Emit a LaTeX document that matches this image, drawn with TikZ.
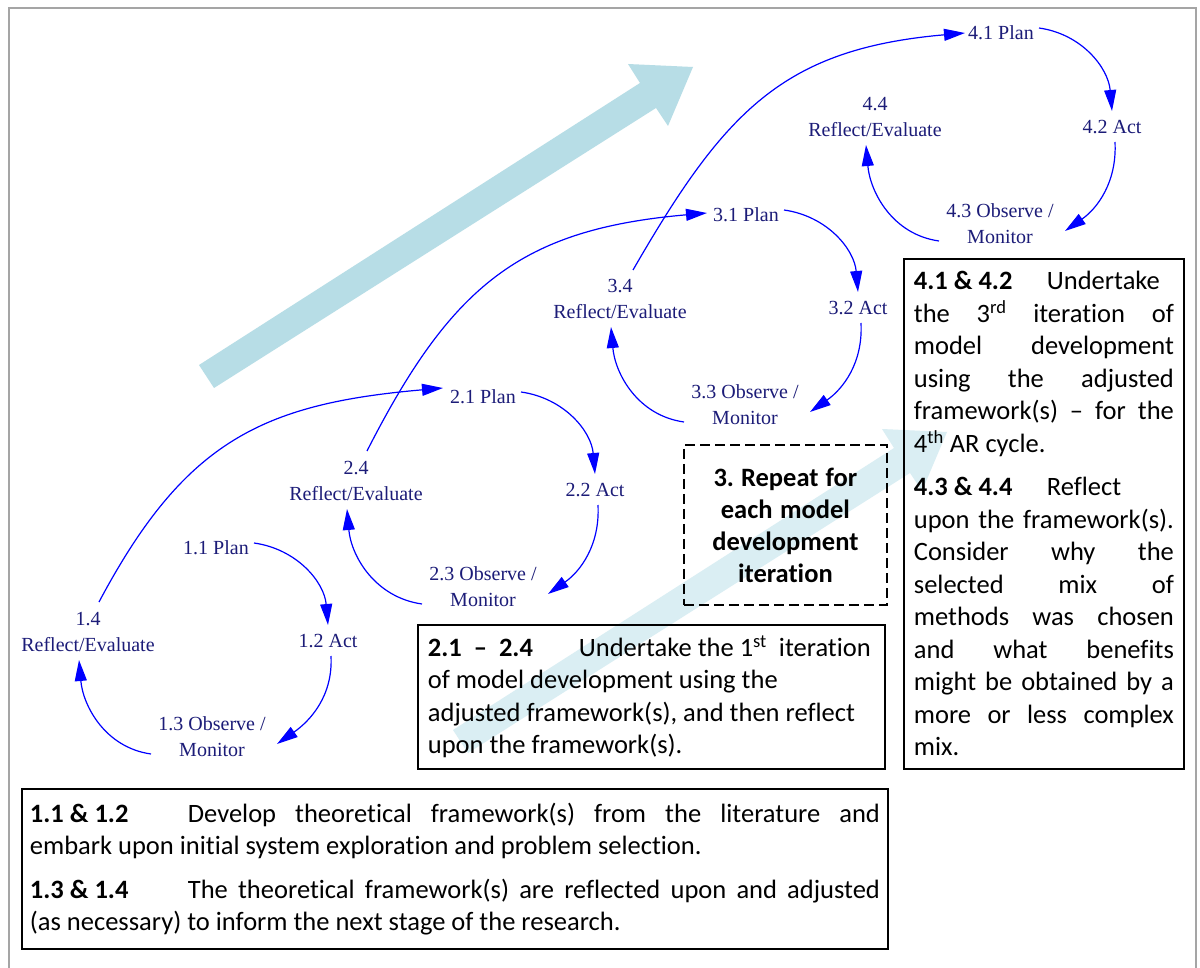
\documentclass[tikz,border=0pt]{standalone}
\usepackage{fontspec}
\setmainfont{Carlito}[Ligatures=NoCommon]
\newfontfamily\cycfont{Liberation Serif}
\usetikzlibrary{arrows.meta}
\definecolor{cycblue}{RGB}{0,0,255}
\definecolor{cyctext}{RGB}{28,28,120}
\definecolor{bigarrow}{RGB}{183,221,230}
\definecolor{softarrow}{RGB}{218,238,243}
\definecolor{framegray}{RGB}{165,165,165}
\frenchspacing
\hyphenpenalty=10000\relax
% a line stretched to the full given width
\newcommand\jline[2]{\makebox[#1][s]{\spaceskip=0.23em plus 1fil\relax #2}}
% back to the font's own word spacing inside a node
\newcommand\natspace{\spaceskip=0pt\xspaceskip=0pt\relax}
% bold paragraph lead-in followed by a tab stop
\newcommand\lead[2]{\makebox[#1][l]{\natspace\textbf{#2}}}

\begin{document}
\begin{tikzpicture}[x=1pt,y=1pt,
  stage/.style={font=\cycfont\fontsize{20}{26}\selectfont, text=cyctext, align=center, inner sep=2pt},
  cyc/.style={draw=cycblue, line width=1.2pt, -{Triangle[length=21pt,width=12pt]}},
  note/.style={draw=black, line width=1.8pt, anchor=north west,
    font=\fontsize{26.5}{32.5}\selectfont},
]
\useasboundingbox (0,0) rectangle (1200,-968);
\fill[white] (0,0) rectangle (1200,-968);
\draw[framegray, line width=2pt] (9,-968) -- (9,-8) -- (1196,-8) -- (1196,-968);

% broad progress arrows
\fill[bigarrow] (199,-365) -- (640,-83) -- (628,-64) -- (693,-67) -- (668,-126) -- (656,-108) -- (214,-388) -- cycle;
\fill[softarrow] (453,-730) -- (894,-448) -- (882,-429) -- (947,-432) -- (922,-491) -- (910,-473) -- (468,-753) -- cycle;

% explanatory boxes
\node[note, text width=850pt, inner xsep=8pt, minimum height=160pt] (n1) at (21,-788) {\natspace
  \jline{850pt}{\lead{158pt}{1.1 \& 1.2}Develop theoretical framework(s) from the literature and}\\
  embark upon initial system exploration and problem selection.\\[11pt]
  \jline{850pt}{\lead{158pt}{1.3 \& 1.4}The theoretical framework(s) are reflected upon and adjusted}\\
  (as necessary) to inform the next stage of the research.};

\node[note, text width=447pt, inner xsep=10pt, minimum height=144pt] (n2) at (417,-624) {\natspace
  \lead{151pt}{2.1\ \ –\ \ 2.4}Undertake the 1\textsuperscript{st}\ \ iteration\\
  of model development using the\\
  adjusted framework(s), and then reflect\\
  upon the framework(s).};

\node[note, dashed, dash pattern=on 10pt off 5pt, text width=183pt, inner xsep=10pt, minimum height=160pt, align=center,
  font=\bfseries\fontsize{26.5}{32}\selectfont] (n3) at (683,-444) {\natspace
  3. Repeat for\\ each model\\ development\\ iteration};

\node[note, text width=260pt, inner xsep=10pt, minimum height=510pt] (n4) at (903,-258) {\natspace
  \lead{133pt}{4.1 \& 4.2}Undertake\\
  \jline{260pt}{the 3\textsuperscript{rd} iteration of}\\
  \jline{260pt}{model development}\\
  \jline{260pt}{using the adjusted}\\
  \jline{260pt}{framework(s) – for the}\\
  4\textsuperscript{th} AR cycle.\\[11pt]
  \lead{133pt}{4.3 \& 4.4}Reflect\\
  \jline{260pt}{upon the framework(s).}\\
  \jline{260pt}{Consider why the}\\
  \jline{260pt}{selected mix of}\\
  \jline{260pt}{methods was chosen}\\
  \jline{260pt}{and what benefits}\\
  \jline{260pt}{might be obtained by a}\\
  \jline{260pt}{more or less complex}\\
  mix.};

% action research cycles
\node[stage] (p1) at (216,-548) {1.1 Plan};
\node[stage] (a1) at (328,-641) {1.2 Act};
\node[stage] (o1) at (212,-737) {1.3 Observe /\\Monitor};
\node[stage] (r1) at (88,-632) {1.4\\Reflect/Evaluate};

\node[stage] (p2) at (483,-397) {2.1 Plan};
\node[stage] (a2) at (595,-490) {2.2 Act};
\node[stage] (o2) at (483,-587) {2.3 Observe /\\Monitor};
\node[stage] (r2) at (356,-481) {2.4\\Reflect/Evaluate};

\node[stage] (p3) at (746,-215) {3.1 Plan};
\node[stage] (a3) at (858,-308) {3.2 Act};
\node[stage] (o3) at (745,-405) {3.3 Observe /\\Monitor};
\node[stage] (r3) at (620,-299) {3.4\\Reflect/Evaluate};

\node[stage] (p4) at (1001,-33) {4.1 Plan};
\node[stage] (a4) at (1112,-127) {4.2 Act};
\node[stage] (o4) at (1000,-224) {4.3 Observe /\\Monitor};
\node[stage] (r4) at (875,-117) {4.4\\Reflect/Evaluate};

\foreach \i in {1,...,4}{
  \draw[cyc] ([shift={(38,5)}]p\i.center) to[out=-8,in=95] ([shift={(0,16)}]a\i.center);
  \draw[cyc] ([shift={(3,-15)}]a\i.center) to[out=-87,in=35] ([shift={(65,-7)}]o\i.center);
  \draw[cyc] ([shift={(-61,-17)}]o\i.center) to[out=172,in=-85] ([shift={(-9,-28)}]r\i.center);
}

% links from each reflection to the next plan
\draw[cyc] ([shift={(11,30)}]r1.center) to[out=62,in=185,looseness=1.15] ([shift={(-40,9)}]p2.center);
\draw[cyc] ([shift={(11,30)}]r2.center) to[out=63,in=185,looseness=1.15] ([shift={(-39,2)}]p3.center);
\draw[cyc] ([shift={(13,29)}]r3.center) to[out=60,in=185,looseness=1.15] ([shift={(-36,0)}]p4.center);
\end{tikzpicture}
\end{document}
